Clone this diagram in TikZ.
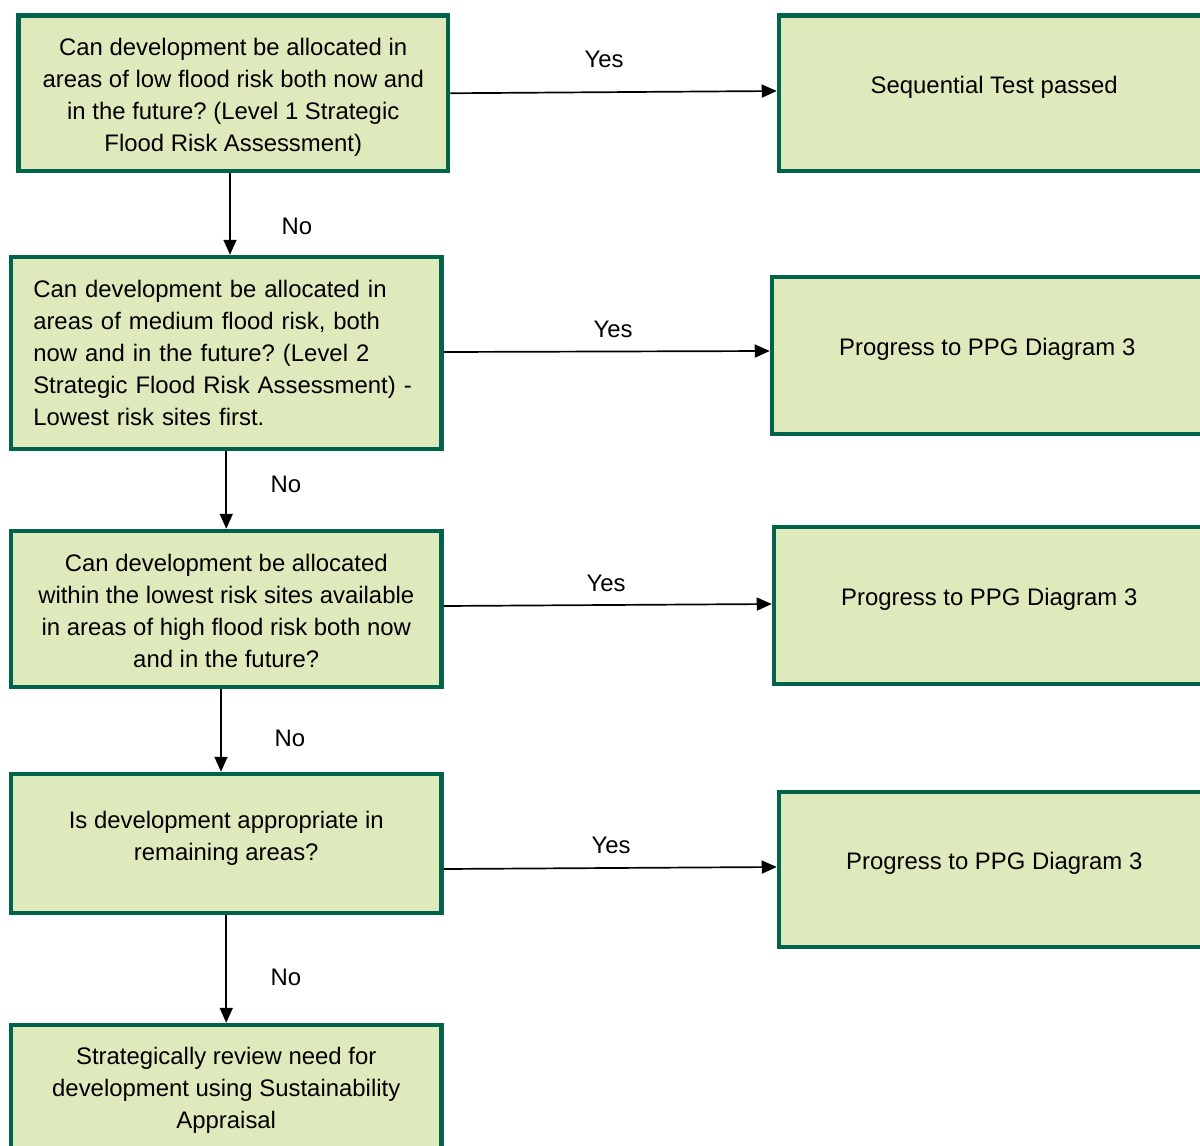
\documentclass[tikz,border=0pt]{standalone}
\usepackage{fontspec}
\setmainfont{Liberation Sans}
\usetikzlibrary{arrows.meta}
\definecolor{boxfill}{HTML}{DFEABC}
\definecolor{boxline}{HTML}{00634A}
\frenchspacing
\begin{document}
\begin{tikzpicture}[x=1pt,y=-1pt,
  box/.style={draw=boxline, fill=boxfill, line width=4.5pt, rectangle, inner sep=0pt},
  txt/.style={font=\fontsize{23.9}{32}\selectfont, inner sep=0pt, align=center},
  lbl/.style={font=\fontsize{23.9}{32}\selectfont, inner sep=0pt},
  arr/.style={line width=1.7pt, -{Triangle[length=15pt,width=13pt]}}]
\path[use as bounding box] (0,0) rectangle (1200,1146);
\clip (0,0) rectangle (1200,1146);

% left column boxes
\node[box, minimum width=429.5pt, minimum height=155.5pt] (b1) at (233.25,93.25) {};
\node[box, minimum width=430.5pt, minimum height=192pt] (b2) at (226.25,353) {};
\node[box, minimum width=430.5pt, minimum height=156pt] (b3) at (226.25,609) {};
\node[box, minimum width=430.5pt, minimum height=139pt] (b4) at (226.25,843.5) {};
\node[box, minimum width=430.5pt, minimum height=180pt] (b5) at (226.25,1115) {};

% right column boxes
\node[box, minimum width=430.5pt, minimum height=155.5pt] (r1) at (994.25,93.25) {};
\node[box, minimum width=430.5pt, minimum height=157pt] (r2) at (987.25,355.5) {};
\node[box, minimum width=430.5pt, minimum height=157pt] (r3) at (989.25,605.5) {};
\node[box, minimum width=430.5pt, minimum height=155pt] (r4) at (994.25,869.5) {};

% texts
\node[txt] (t1) at (233.25,97.5) {Can development be allocated in\\areas of low flood risk both now and\\in the future? (Level 1 Strategic\\Flood Risk Assessment)};
\node[txt, align=left, text width=395pt] (t2) at (230.75,353) {Can development be allocated in\\areas of medium flood risk, both\\now and in the future? (Level 2\\Strategic Flood Risk Assessment) -\\Lowest risk sites first.};
\node[txt] (t3) at (226.25,611) {Can development be allocated\\within the lowest risk sites available\\in areas of high flood risk both now\\and in the future?};
\node[txt] (t4) at (226.25,838.4) {Is development appropriate in\\remaining areas?};
\node[txt] (t5) at (226.25,1090.4) {Strategically review need for\\development using Sustainability\\Appraisal};

\node[lbl, anchor=base] (s1) at (r1.center) {Sequential Test passed};
\node[lbl, anchor=base] (s2) at (r2.center) {Progress to PPG Diagram 3};
\node[lbl, anchor=base] (s3) at (r3.center) {Progress to PPG Diagram 3};
\node[lbl, anchor=base] (s4) at (r4.center) {Progress to PPG Diagram 3};

% Yes arrows
\draw[arr] (b1.east) -- ([yshift=2.25pt]r1.west);
\draw[arr] ([yshift=1pt]b2.east) -- ([yshift=4.5pt]r2.west);
\draw[arr] ([yshift=3pt]b3.east) -- ([yshift=1.5pt]r3.west);
\draw[arr] ([yshift=-25.5pt]b4.east) -- ([yshift=2.5pt]r4.west);

% No arrows
\draw[arr] ([xshift=-3.25pt]b1.south) -- ([xshift=-3.25pt]b1.south |- b2.north);
\draw[arr] (b2.south) -- (b3.north);
\draw[arr] ([xshift=-5.25pt]b3.south) -- ([xshift=-5.25pt]b3.south |- b4.north);
\draw[arr] (b4.south) -- (b5.north);

% labels
\node[lbl] (y1) at (604,59) {Yes};
\node[lbl] (y2) at (613,329) {Yes};
\node[lbl] (y3) at (606,583) {Yes};
\node[lbl] (y4) at (611,845) {Yes};
\node[lbl] (n1) at (297,226) {No};
\node[lbl] (n2) at (286,484) {No};
\node[lbl] (n3) at (290,738) {No};
\node[lbl] (n4) at (286,977) {No};
\end{tikzpicture}
\end{document}
